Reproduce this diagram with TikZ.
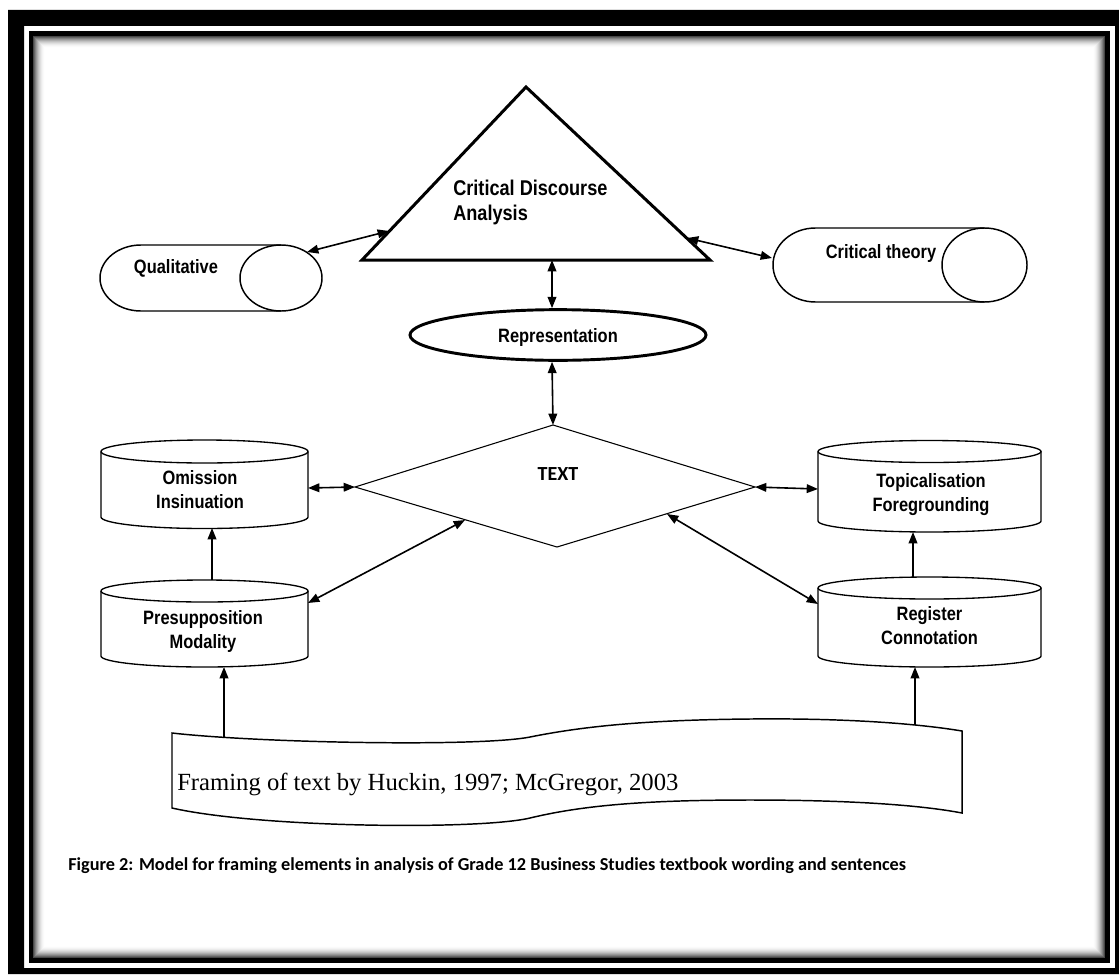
\documentclass[tikz,border=0pt]{standalone}
\usepackage{fontspec}
\setmainfont{Liberation Serif}
\newfontfamily\nsans{Liberation Sans}[FakeStretch=0.85]
\newfontfamily\calib{Carlito}
\usetikzlibrary{arrows.meta,shapes.geometric}

% two centred / left-aligned lines, baseline on the first line
\newcommand\twoc[2]{\vtop{\halign{\hfil##\hfil\cr#1\cr#2\cr}}}
\newcommand\twol[2]{\vtop{\halign{##\hfil\cr#1\cr#2\cr}}}

% vertical drum: left x, right x, top-centre y, bottom-centre y, half height of caps
\newcommand\drum[5]{%
  \draw[drumline] (#1,#3) -- (#1,#4)
    arc[start angle=180,end angle=0,x radius={(#2-#1)/2},y radius=#5] -- (#2,#3);
  \draw[drumline] ({(#1+#2)/2},#3) ellipse[x radius={(#2-#1)/2},y radius=#5];}

\begin{document}
\begin{tikzpicture}[x=0.75pt,y=-0.75pt,
  lbl/.style={font=\nsans\bfseries\fontsize{14.5}{18}\selectfont,inner sep=0,anchor=base},
  tip/.tip={Triangle[length=8.5pt,width=6.5pt]},
  link/.style={line width=1.2pt,-tip},
  dlink/.style={line width=1.2pt,tip-tip},
  drumline/.style={line width=1pt},
  pillline/.style={line width=1.1pt}]

\fill[white] (0,0) rectangle (1119,974);
\useasboundingbox (0,0) rectangle (1119,974);

% page frame: heavy outer band, thin inner rule and a soft inner shadow
\fill[black,even odd rule] (8,10) rectangle (1119,974) (24,26) rectangle (1115,968);
\draw[line width=3.4pt] (31,33.5) rectangle (1107.5,960.5);
\foreach \i in {0,...,11}{
  \pgfmathsetmacro\g{72*(1-\i/12)^2}
  \draw[black!\g,line width=0.8pt] (33.5+\i,36.5+\i) rectangle (1104.5-\i,957.5-\i);
}

% Critical Discourse Analysis triangle
\coordinate (tri-a) at (526,87);
\coordinate (tri-l) at (389,231);
\coordinate (tri-r) at (687,238);
\coordinate (tri-b) at (552,260);
\draw[line width=2.25pt,line join=miter] (tri-a) -- (710,260) -- (362,260) -- cycle;
\node[lbl,anchor=base west,font=\nsans\bfseries\fontsize{16}{18.75}\selectfont] (cda)
  at (453,195) {\twol{Critical Discourse}{Analysis}};

% Qualitative
\draw[pillline] (281,245) -- (141,245)
  arc[start angle=270,end angle=90,x radius=41,y radius=33] -- (281,311);
\draw[pillline] (281,278) ellipse[x radius=41,y radius=33];
\node[lbl] (qual) at (176,273) {Qualitative};
\coordinate (qual-e) at (307,252);

% Critical theory
\draw[pillline] (984.5,228) -- (815.5,228)
  arc[start angle=270,end angle=90,x radius=42.5,y radius=37] -- (984.5,302);
\draw[pillline] (984.5,265) ellipse[x radius=42.5,y radius=37];
\node[lbl] (crit) at (881,258) {Critical theory};
\coordinate (crit-w) at (772,258);

% Representation
\node[draw,ellipse,line width=2.2pt,minimum width=222pt,minimum height=38pt,
  inner sep=0,text depth=0pt,font=\nsans\bfseries\fontsize{14.5}{18}\selectfont]
  (rep) at (558,335) {Representation};

% TEXT diamond
\coordinate (dT) at (553,425);
\coordinate (dR) at (755,487);
\coordinate (dB) at (557,547);
\coordinate (dL) at (355,487);
\coordinate (dLL) at (465,520);
\coordinate (dRR) at (667,514);
\draw[line width=0.8pt] (dT) -- (dR) -- (dB) -- (dL) -- cycle;
\node[font=\calib\bfseries\fontsize{15}{18}\selectfont,inner sep=0,anchor=base]
  (txt) at (558,480) {TEXT};

% drums
\drum{101}{308}{451.5}{517}{11.5}
\drum{101}{308}{591}{656}{11}
\drum{818}{1041}{451.5}{521}{11}
\drum{818}{1041}{588}{656}{11}
\node[lbl] (omi) at (200,484) {\twoc{Omission}{Insinuation}};
\node[lbl] (pre) at (203,624) {\twoc{Presupposition}{Modality}};
\node[lbl] (topi) at (931,487) {\twoc{Topicalisation}{Foregrounding}};
\node[lbl] (reg) at (929.5,620) {\twoc{Register}{Connotation}};
\coordinate (omi-r) at (308,488);
\coordinate (omi-b) at (212,528);
\coordinate (pre-t) at (212,580);
\coordinate (pre-r) at (308,603);
\coordinate (pre-b) at (224,667);
\coordinate (topi-l) at (818,489);
\coordinate (topi-b) at (913,532);
\coordinate (reg-t) at (913,577);
\coordinate (reg-l) at (818,604);
\coordinate (reg-b) at (915,667);

% wavy banner
\draw[pillline] (172,733) .. controls (260,743) and (480,747) .. (530,737)
  .. controls (580,727) and (640,720) .. (750,719)
  .. controls (850,718) and (920,724) .. (962,731)
  -- (962,813)
  .. controls (920,805) and (850,800) .. (750,800)
  .. controls (640,800) and (580,806) .. (530,818)
  .. controls (480,830) and (260,828) .. (172,808) -- cycle;
\node[font=\fontsize{18.5}{22}\selectfont,inner sep=0,anchor=base west]
  (frm) at (177,790) {Framing of text by Huckin, 1997; McGregor, 2003};
\coordinate (ban-l) at (224,738);
\coordinate (ban-r) at (915,725);

% caption
\node[font=\calib\bfseries\fontsize{13.7}{16}\selectfont,inner sep=0,anchor=base west]
  (cap) at (68,870) {Figure 2: Model for framing elements in analysis of Grade 12 Business Studies textbook wording and sentences};

% connectors
\draw[dlink] (qual-e) -- (tri-l);
\draw[dlink] (tri-r) -- (crit-w);
\draw[dlink] (tri-b) -- (tri-b |- rep.north);
\draw[dlink] (tri-b |- rep.south) -- (dT);
\draw[dlink] (omi-r) -- (dL);
\draw[dlink] (dLL) -- (pre-r);
\draw[link] (pre-t) -- (omi-b);
\draw[dlink] (dR) -- (topi-l);
\draw[dlink] (dRR) -- (reg-l);
\draw[link] (reg-t) -- (topi-b);
\draw[link] (ban-l) -- (pre-b);
\draw[link] (ban-r) -- (reg-b);
\end{tikzpicture}
\end{document}
